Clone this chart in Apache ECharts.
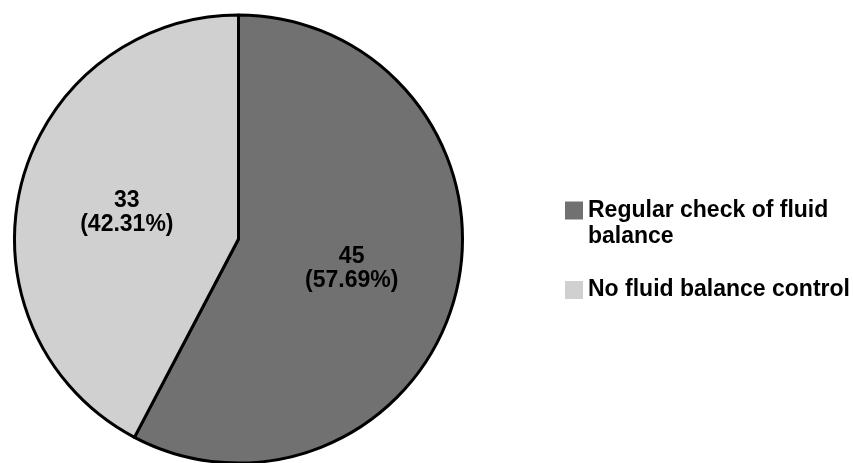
<!DOCTYPE html>
<html>
<head>
<meta charset="utf-8">
<script src="https://cdn.jsdelivr.net/npm/echarts@6/dist/echarts.min.js"></script>
<style>
  html, body { margin: 0; padding: 0; background: #fff; }
  #chart { width: 853px; height: 463px; }
</style>
</head>
<body>
<div id="chart"></div>
<script>
// Fluid balance monitoring: counts per group
const categories = ['Regular check of fluid balance', 'No fluid balance control'];
const legendLines = [['Regular check of fluid', 'balance'], ['No fluid balance control']];
const counts = [45, 33];
const sliceColors = ['#717171', '#d0d0d0'];

const FONT = '"Liberation Sans", Arial, sans-serif';
const LEGEND_LINE = 26;

const chart = echarts.init(document.getElementById('chart'), null, { renderer: 'canvas' });

// Legend text is vertically centred on its icon; for wrapped entries a blank
// leading line keeps the icon level with the first line of text.
function legendFor(i, top) {
  const lines = legendLines[i];
  const text = lines.length > 1 ? ' \n' + lines.join('\n') : lines[0];
  return {
    left: 565,
    top: top,
    padding: 0,
    orient: 'vertical',
    itemWidth: 18,
    itemHeight: 18,
    itemGap: 0,
    selectedMode: false,
    icon: 'rect',
    data: [categories[i]],
    formatter: function () { return text; },
    itemStyle: { borderWidth: 0 },
    textStyle: {
      fontFamily: FONT,
      fontSize: 23,
      fontWeight: 'bold',
      color: '#000',
      lineHeight: LEGEND_LINE
    }
  };
}

const labelOffsets = [[1.5, 2.5], [0, 1.5]];

chart.setOption({
  animation: false,
  backgroundColor: '#fff',
  legend: [
    legendFor(0, 171.5),
    legendFor(1, 277)
  ],
  series: [{
    type: 'pie',
    center: [238.5, 239],
    radius: 224,
    startAngle: 90,
    clockwise: true,
    silent: true,
    data: categories.map((name, i) => ({
      name: name,
      value: counts[i],
      itemStyle: { color: sliceColors[i] },
      label: { offset: labelOffsets[i] }
    })),
    itemStyle: { borderColor: '#000', borderWidth: 3 },
    label: {
      show: true,
      position: 'inside',
      formatter: '{c}\n({d}%)',
      fontFamily: FONT,
      fontSize: 23,
      fontWeight: 'bold',
      color: '#000',
      lineHeight: 24
    },
    labelLine: { show: false },
    emphasis: { disabled: true }
  }]
});
</script>
</body>
</html>
